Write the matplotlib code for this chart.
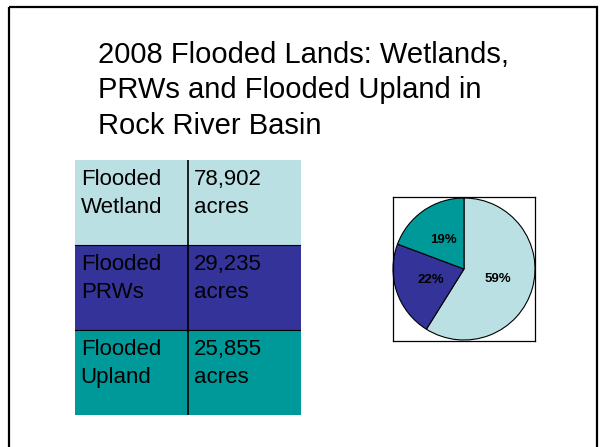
import matplotlib
matplotlib.use("Agg")
from matplotlib import pyplot as plt
from matplotlib.patches import Rectangle

plt.rcParams['font.family'] = ['Liberation Sans', 'DejaVu Sans']

# dados do slide
titulo = ["2008 Flooded Lands: Wetlands,",
          "PRWs and Flooded Upland in",
          "Rock River Basin"]
categorias = ["Flooded\nWetland", "Flooded\nPRWs", "Flooded\nUpland"]
acres = [78902, 29235, 25855]
cores = ["#BBE0E3", "#333399", "#009999"]

W, H = 602, 447
fig = plt.figure(figsize=(W / 100, H / 100), dpi=100)

# fundo com a moldura e o titulo (coordenadas em pixels)
bg = fig.add_axes([0, 0, 1, 1])
bg.set_xlim(0, W)
bg.set_ylim(H, 0)
bg.axis('off')
bg.add_patch(Rectangle((9, 7), 588, 460, fill=False, lw=1.6, ec='black'))
for i, linha in enumerate(titulo):
    bg.text(98, 63 + i * 35.5, linha, fontsize=21, va='baseline', ha='left')

# tabela
tab = fig.add_axes([75 / W, (H - 415) / H, 226 / W, 255 / H])
tab.set_xlim(0, 2)
tab.set_ylim(3, 0)
tab.axis('off')
for i, (cat, val, cor) in enumerate(zip(categorias, acres, cores)):
    tab.bar([0, 1], [1, 1], bottom=i, width=1, align='edge', color=cor, lw=0)
    textos = [cat.split("\n"), [f"{val:,}", "acres"]]
    for j, linhas in enumerate(textos):
        for k, t in enumerate(linhas):
            tab.text(j + 0.05, i + 0.294 + k * 0.33, t, fontsize=16,
                     va='baseline', ha='left', color='black')
for i in range(1, 3):
    tab.axhline(i, color='black', lw=0.8)
tab.axvline(1, color='black', lw=1.2)

# pizza
pie = fig.add_axes([393 / W, (H - 341) / H, 142 / W, 144 / H])
pie.pie(acres, colors=cores, startangle=90, counterclock=False,
        autopct='%1.0f%%', pctdistance=0.5,
        wedgeprops=dict(edgecolor='black', linewidth=0.8),
        textprops=dict(fontsize=9.5, fontweight='bold', color='black'))
pie.set_aspect('auto')
pie.set_xlim(-1.0, 1.0)
pie.set_ylim(-1.014, 1.014)
pie.set_frame_on(True)
for s in pie.spines.values():
    s.set_linewidth(0.9)
    s.set_color('black')

fig.savefig("out.png", dpi=100)
